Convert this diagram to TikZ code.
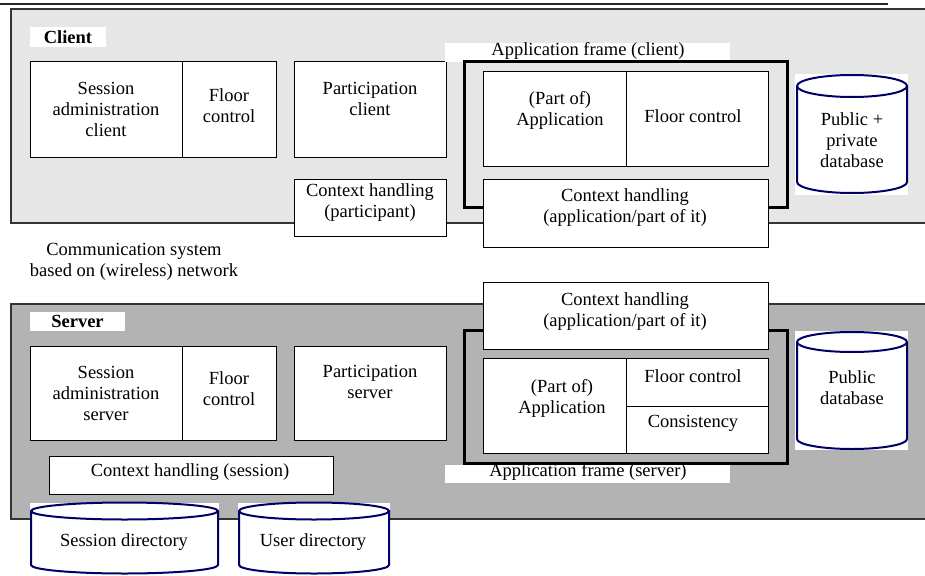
\documentclass[tikz,border=0pt]{standalone}
\usepackage{fontspec}
\setmainfont{Liberation Serif}
\definecolor{clientgray}{HTML}{E6E6E6}
\definecolor{servergray}{HTML}{B3B3B3}
\definecolor{dbnavy}{HTML}{000066}
\newcommand\dbcyl[5]{%
  \draw[db] (#1,#3) -- (#1,#4) arc[start angle=180,end angle=0,x radius={(#2-#1)/2},y radius=#5] -- (#2,#3);
  \draw[db] ({(#1+#2)/2},#3) ellipse[x radius={(#2-#1)/2}, y radius=#5];
}
\begin{document}
\begin{tikzpicture}[x=1pt,y=-1pt,
  every node/.style={font=\fontsize{18.5}{21}\selectfont},
  txt/.style={align=center, inner sep=0pt},
  box/.style={draw=black, fill=white, line width=1pt, inner sep=0pt},
  appframe/.style={draw=black, line width=3pt, inner sep=0pt},
  lbl/.style={fill=white, inner sep=0pt},
  area/.style={draw=black!80, line width=1.2pt, inner sep=0pt},
  db/.style={draw=dbnavy, line width=2pt, fill=white}]
\useasboundingbox (0,0) rectangle (925,575);
\clip (0,0) rectangle (925,575);

% separator line at top
\coordinate (topL) at (0,4);
\coordinate (topR) at (888,4);
\draw[line width=1.3pt, black!85] (topL) -- (topR);

% ================= CLIENT =================
\node[area, fill=clientgray, minimum width=929pt, minimum height=214pt] (clientbg) at (475.5,116) {};
\node[lbl, minimum width=76pt, minimum height=20pt] (clientlbl) at (68,37) {\textbf{Client}};

\node[box, minimum width=152pt, minimum height=95pt] (sac) at (106,109.5) {};
\node[box, minimum width=94pt, minimum height=95pt] (fcc) at (229,109.5) {};
\node[box, minimum width=152pt, minimum height=95pt] (pc) at (370,109.5) {};
\node[box, minimum width=152pt, minimum height=57pt] (chp) at (370,207.5) {};
\node[txt] (t_sac) at (106,109) {Session\\administration\\client};
\node[txt] (t_fcc) at (229,105.5) {Floor\\control};
\node[txt] (t_pc) at (370,98.5) {Participation\\client};
\node[txt] (t_chp) at (370,202.5) {Context handling\\(participant)};

\node[lbl, minimum width=285pt, minimum height=19pt] (afclbl) at (587.5,52.5) {};
\node[txt] (t_afc) at (588,51) {Application frame (client)};
\node[appframe, minimum width=323pt, minimum height=145pt] (afc) at (625.5,134.5) {};
\node[box, minimum width=143pt, minimum height=94pt] (pac) at (554.5,119) {};
\node[box, minimum width=142pt, minimum height=94pt] (fcac) at (697,119) {};
\node[box, minimum width=285pt, minimum height=68pt] (chac) at (625.5,213) {};
\node[txt] (t_pac) at (560,110.5) {(Part of)\\Application};
\node[txt] (t_fcac) at (693,116) {Floor control};
\node[txt] (t_chac) at (625,207.5) {Context handling\\(application/part of it)};

\fill[white] (795,74) rectangle (908,195);
\dbcyl{797}{907}{86}{182}{11}
\node[txt] (t_dbc) at (852,140) {Public +\\private\\database};

% communication system
\node[txt] (t_comm) at (134,262) {Communication system\\based on (wireless) network};

% ================= SERVER =================
\node[area, fill=servergray, minimum width=929pt, minimum height=215pt] (serverbg) at (475.5,411.5) {};
\node[lbl, minimum width=95pt, minimum height=19pt] (serverlbl) at (77.5,321.5) {\textbf{Server}};

\node[box, minimum width=152pt, minimum height=94pt] (sas) at (106,393) {};
\node[box, minimum width=94pt, minimum height=94pt] (fcs) at (229,393) {};
\node[box, minimum width=152pt, minimum height=94pt] (ps) at (370,393) {};
\node[box, minimum width=284pt, minimum height=38pt] (chs) at (191,475) {};
\node[txt] (t_sas) at (106,393) {Session\\administration\\server};
\node[txt] (t_fcs) at (229,389) {Floor\\control};
\node[txt] (t_ps) at (370,382) {Participation\\server};
\node[txt] (t_chs) at (190,472) {Context handling (session)};

\node[appframe, minimum width=323pt, minimum height=133pt] (afs) at (625.5,396.5) {};
\node[box, minimum width=285pt, minimum height=67pt] (chas) at (625.5,315.5) {};
\node[box, minimum width=143pt, minimum height=95pt] (pas) at (554.5,405.5) {};
\node[box, minimum width=142pt, minimum height=48pt] (fcas) at (697,382) {};
\node[box, minimum width=142pt, minimum height=47pt] (cons) at (697,429.5) {};
\node[txt] (t_chas) at (625,311.5) {Context handling\\(application/part of it)};
\node[txt] (t_pas) at (562,398) {(Part of)\\Application};
\node[txt] (t_fcas) at (693,376) {Floor control};
\node[txt] (t_cons) at (693,423) {Consistency};
\node[lbl, minimum width=285pt, minimum height=18pt] (afslbl) at (587.5,474) {};
\node[txt] (t_afs) at (588,472) {Application frame (server)};

\fill[white] (795,331) rectangle (908,450);
\dbcyl{797}{907}{342}{439}{10}
\node[txt] (t_dbs) at (852,387.5) {Public\\database};

% directories
\fill[white] (30,503) rectangle (219,575);
\dbcyl{31}{218}{511}{565}{8.5}
\node[txt] (t_sd) at (124,542) {Session directory};
\fill[white] (238,503) rectangle (390,575);
\dbcyl{239}{389}{511}{565}{8.5}
\node[txt] (t_ud) at (313,542) {User directory};
\end{tikzpicture}
\end{document}
